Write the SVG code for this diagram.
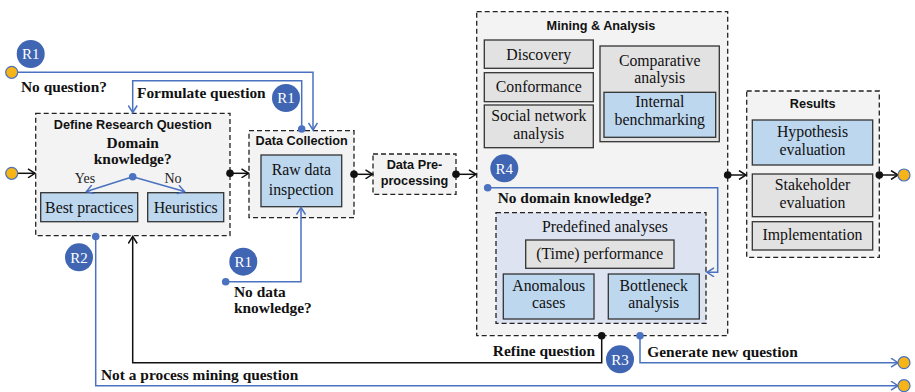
<svg xmlns="http://www.w3.org/2000/svg" width="915" height="392" viewBox="0 0 915 392">
<style>
.cont{fill:#f3f3f3;stroke:#222;stroke-width:1.3;stroke-dasharray:5,3}
.pre{fill:#dde3f0;stroke:#222;stroke-width:1.3;stroke-dasharray:5,3}
.blue{fill:#bdd7ee;stroke:#333;stroke-width:1.3}
.grey{fill:#e2e2e2;stroke:#333;stroke-width:1.3}
.title{font-family:"Liberation Sans",Arial,sans-serif;font-weight:bold;font-size:12.7px;fill:#111;text-anchor:middle}
.node{font-family:"Liberation Serif","Times New Roman",serif;font-size:15.8px;fill:#111;text-anchor:middle}
.lbl{font-family:"Liberation Serif","Times New Roman",serif;font-weight:bold;font-size:15.4px;fill:#111}
.sm{font-family:"Liberation Serif","Times New Roman",serif;font-size:14px;fill:#222;text-anchor:middle}
.badge circle{fill:#3f65b3}
.badge text{font-family:"Liberation Serif","Times New Roman",serif;font-size:15px;fill:#fff;text-anchor:middle}
.bl{fill:none;stroke:#4a72c0;stroke-width:1.5}
.bk{fill:none;stroke:#111;stroke-width:1.5}
.yd{fill:#f7b416;stroke:#4a72c0;stroke-width:1.2}
</style>
<defs>
<marker id="ab" markerWidth="10" markerHeight="10" refX="8" refY="5" orient="auto" markerUnits="userSpaceOnUse"><path d="M1,0.5 L8,5 L1,9.5" fill="none" stroke="#4a72c0" stroke-width="1.5"/></marker>
<marker id="ak" markerWidth="10" markerHeight="10" refX="8" refY="5" orient="auto" markerUnits="userSpaceOnUse"><path d="M1,0.5 L8,5 L1,9.5" fill="none" stroke="#111" stroke-width="1.5"/></marker>
</defs>

<g id="define-research-question">
<rect class="cont" x="35.7" y="113.3" width="194.3" height="122.4"/>
<text class="title" x="132.7" y="129">Define Research Question</text>
<text class="lbl" x="132.7" y="148" text-anchor="middle">Domain</text>
<text class="lbl" x="132.7" y="163.5" text-anchor="middle">knowledge?</text>
<text class="sm" x="85" y="183">Yes</text>
<text class="sm" x="173" y="183">No</text>
</g>
<g id="best-practices">
<rect class="blue" x="40.7" y="192.7" width="97" height="29"/>
<text class="node" x="89.2" y="212.8">Best practices</text>
</g>
<g id="heuristics">
<rect class="blue" x="147.7" y="192.7" width="76" height="29"/>
<text class="node" x="185.7" y="212.8">Heuristics</text>
</g>

<g id="data-collection">
<rect class="cont" x="249" y="130.7" width="105" height="87"/>
<text class="title" x="301.7" y="145">Data Collection</text>
</g>
<g id="raw-data-inspection">
<rect class="blue" x="261" y="155" width="80.7" height="51.7"/>
<text class="node" x="301.3" y="175">Raw data</text>
<text class="node" x="301.3" y="195">inspection</text>
</g>

<g id="data-preprocessing">
<rect class="cont" x="373" y="154" width="83" height="40.3"/>
<text class="title" x="414.5" y="169">Data Pre-</text>
<text class="title" x="414.5" y="184.5">processing</text>
</g>

<g id="mining-analysis">
<rect class="cont" x="476.7" y="11.7" width="251" height="324"/>
<text class="title" x="601" y="30">Mining &amp; Analysis</text>
<text class="lbl" x="497.7" y="203.3">No domain knowledge?</text>
</g>
<g id="discovery">
<rect class="grey" x="484.3" y="40" width="109" height="28.3"/>
<text class="node" x="538.8" y="59.8">Discovery</text>
</g>
<g id="conformance">
<rect class="grey" x="484.3" y="72.7" width="109" height="29"/>
<text class="node" x="538.8" y="92.2">Conformance</text>
</g>
<g id="social-network-analysis">
<rect class="grey" x="484.3" y="105" width="109" height="42.7"/>
<text class="node" x="538.8" y="121">Social network</text>
<text class="node" x="538.8" y="138.6">analysis</text>
</g>
<g id="comparative-analysis">
<rect class="grey" x="600" y="46" width="119.3" height="95.7"/>
<text class="node" x="659.7" y="65.5">Comparative</text>
<text class="node" x="659.7" y="83.1">analysis</text>
</g>
<g id="internal-benchmarking">
<rect class="blue" x="604" y="92.3" width="111.7" height="45"/>
<text class="node" x="659.8" y="107.2">Internal</text>
<text class="node" x="659.8" y="124.8">benchmarking</text>
</g>

<g id="predefined-analyses">
<rect class="pre" x="496" y="212.7" width="210" height="110.6"/>
<text class="node" x="605" y="231.7">Predefined analyses</text>
</g>
<g id="time-performance">
<rect class="grey" x="525.7" y="240" width="148.3" height="28.3"/>
<text class="node" x="599.8" y="259.3">(Time) performance</text>
</g>
<g id="anomalous-cases">
<rect class="blue" x="503.3" y="274" width="90.7" height="45"/>
<text class="node" x="548.7" y="290.5">Anomalous</text>
<text class="node" x="548.7" y="308.1">cases</text>
</g>
<g id="bottleneck-analysis">
<rect class="blue" x="608.3" y="274" width="91" height="45"/>
<text class="node" x="653.8" y="290.5">Bottleneck</text>
<text class="node" x="653.8" y="308.1">analysis</text>
</g>

<g id="results">
<rect class="cont" x="746.7" y="91" width="132.6" height="166.3"/>
<text class="title" x="812.7" y="108.3">Results</text>
</g>
<g id="hypothesis-evaluation">
<rect class="blue" x="752.3" y="120" width="120.4" height="45"/>
<text class="node" x="812.5" y="137.4">Hypothesis</text>
<text class="node" x="812.5" y="155">evaluation</text>
</g>
<g id="stakeholder-evaluation">
<rect class="grey" x="752.3" y="174" width="120.4" height="42.7"/>
<text class="node" x="812.5" y="190">Stakeholder</text>
<text class="node" x="812.5" y="207.6">evaluation</text>
</g>
<g id="implementation">
<rect class="grey" x="752.3" y="221.7" width="120.4" height="28.3"/>
<text class="node" x="812.5" y="240.3">Implementation</text>
</g>

<g id="connectors">
<path class="bk" d="M11.7,173.3 H35" marker-end="url(#ak)"/>
<path class="bk" d="M230,173.3 H248.5" marker-end="url(#ak)"/>
<path class="bk" d="M354,174.3 H372.5" marker-end="url(#ak)"/>
<path class="bk" d="M456,174.3 H476" marker-end="url(#ak)"/>
<path class="bk" d="M727.7,175 H746" marker-end="url(#ak)"/>
<path class="bk" d="M879.3,175 H898" marker-end="url(#ak)"/>
<path class="bk" d="M601.7,335.7 V362.7 H132.7 V236.5" marker-end="url(#ak)"/>
<path class="bl" d="M11.7,72.3 H313 V130" marker-end="url(#ab)"/>
<path class="bl" d="M301.7,129 V80.7 H132.7 V112.5" marker-end="url(#ab)"/>
<path class="bl" d="M225.7,281.7 H301 V207.5" marker-end="url(#ab)"/>
<path class="bl" d="M95.7,236 V385.7 H898" marker-end="url(#ab)"/>
<path class="bl" d="M640,335.7 V362.7 H898" marker-end="url(#ab)"/>
<path class="bl" d="M487.7,187.7 H717.7 V272.3 H707" marker-end="url(#ab)"/>
<path class="bl" d="M132.7,176.7 L86.5,191.5" marker-end="url(#ab)"/>
<path class="bl" d="M132.7,176.7 L184.5,191.5" marker-end="url(#ab)"/>
<circle cx="132.7" cy="176.7" r="3.8" fill="#4a72c0"/>
<circle cx="230" cy="173.3" r="3.8" fill="#111"/>
<circle cx="354" cy="174.3" r="3.8" fill="#111"/>
<circle cx="456" cy="174.3" r="3.8" fill="#111"/>
<circle cx="727.7" cy="175" r="3.8" fill="#111"/>
<circle cx="879.3" cy="175" r="3.8" fill="#111"/>
<circle cx="601.7" cy="335.7" r="3.8" fill="#111"/>
<circle cx="640" cy="335.7" r="3.8" fill="#4a72c0"/>
<circle cx="301.7" cy="129" r="3.8" fill="#4a72c0"/>
<circle cx="225.7" cy="281.7" r="3.8" fill="#4a72c0"/>
<circle cx="95.7" cy="236.5" r="3.8" fill="#4a72c0"/>
<circle cx="487.7" cy="187.7" r="3.8" fill="#4a72c0"/>
<circle class="yd" cx="11.7" cy="72.3" r="6"/>
<circle class="yd" cx="11.7" cy="173.3" r="6"/>
<circle class="yd" cx="904" cy="175" r="6"/>
<circle class="yd" cx="904" cy="362.7" r="6"/>
<circle class="yd" cx="904" cy="385.7" r="6"/>
<text class="lbl" x="21" y="91.5">No question?</text>
<text class="lbl" x="137" y="98">Formulate question</text>
<text class="lbl" x="234" y="297">No data</text>
<text class="lbl" x="234" y="312.5">knowledge?</text>
<text class="lbl" x="101" y="380">Not a process mining question</text>
<text class="lbl" x="595" y="356" text-anchor="end">Refine question</text>
<text class="lbl" x="647.3" y="356.7">Generate new question</text>
</g>

<g id="badges" class="badge">
<circle cx="30.7" cy="54" r="14"/><text x="30.7" y="59.3">R1</text>
<circle cx="286" cy="98" r="14"/><text x="286" y="103.3">R1</text>
<circle cx="243.3" cy="261.7" r="14"/><text x="243.3" y="267">R1</text>
<circle cx="79" cy="257.3" r="14"/><text x="79" y="262.6">R2</text>
<circle cx="620" cy="359.3" r="14"/><text x="620" y="364.6">R3</text>
<circle cx="504.3" cy="168.3" r="14"/><text x="504.3" y="173.6">R4</text>
</g>
</svg>
